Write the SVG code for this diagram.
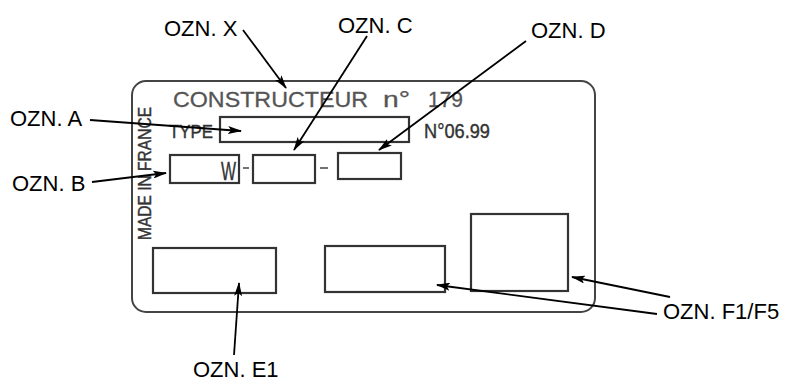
<svg xmlns="http://www.w3.org/2000/svg" width="787" height="383" viewBox="0 0 787 383">
<style>
.lbl{font-family:"Liberation Sans",Arial,sans-serif;font-size:22px;fill:#000}
.plate{fill:none;stroke:#444;stroke-width:2}
.box{fill:none;stroke:#333;stroke-width:2.2}
.pt{font-family:"Liberation Sans",Arial,sans-serif;fill:#555;stroke:#555;stroke-width:0.3}
.nt{font-family:"Liberation Sans",Arial,sans-serif;fill:#333;stroke:#333;stroke-width:0.4}
.con{stroke:#000;stroke-width:1.8;fill:none;marker-end:url(#ah)}
</style>
<defs>
<marker id="ah" viewBox="0 0 14 8" refX="13" refY="4" markerWidth="14" markerHeight="8" markerUnits="userSpaceOnUse" orient="auto">
<path d="M0,0 L14,4 L0,8 L3,4 Z" fill="#000"/>
</marker>
</defs>
<rect x="0" y="0" width="787" height="383" fill="#fff"/>
<g id="plate">
<rect class="plate" x="132" y="81" width="463" height="231" rx="14"/>
<text class="pt" x="173" y="107" font-size="22" textLength="195" lengthAdjust="spacingAndGlyphs">CONSTRUCTEUR</text>
<text class="pt" x="383" y="107" font-size="22" textLength="27" lengthAdjust="spacingAndGlyphs">n°</text>
<text class="pt" x="428" y="107" font-size="22" textLength="35" lengthAdjust="spacingAndGlyphs">179</text>
<text class="nt" x="169" y="138" font-size="19" textLength="44" lengthAdjust="spacingAndGlyphs">TYPE</text>
<text class="nt" x="424" y="138" font-size="20" textLength="66" lengthAdjust="spacingAndGlyphs">N°06.99</text>
<text class="nt" transform="translate(151,240) rotate(-90)" font-size="18" textLength="133" lengthAdjust="spacingAndGlyphs">MADE IN FRANCE</text>
</g>
<g id="type-box"><rect class="box" x="220" y="117" width="189" height="25"/></g>
<g id="box-b"><rect class="box" x="170" y="155" width="69" height="28"/>
<text class="nt" x="221" y="180" font-size="25" textLength="15" lengthAdjust="spacingAndGlyphs">W</text></g>
<g id="dash1"><line x1="243" y1="168" x2="249" y2="168" stroke="#444" stroke-width="1.5"/></g>
<g id="box-c"><rect class="box" x="253" y="155" width="62" height="28"/></g>
<g id="dash2"><line x1="320" y1="168" x2="328" y2="168" stroke="#444" stroke-width="1.5"/></g>
<g id="box-d"><rect class="box" x="338" y="153" width="63" height="26"/></g>
<g id="box-e1"><rect class="box" x="153" y="248" width="123" height="45"/></g>
<g id="box-e2"><rect class="box" x="325" y="246" width="120" height="46"/></g>
<g id="box-f"><rect class="box" x="471" y="214" width="97" height="77"/></g>
<g id="labels">
<text class="lbl" x="164" y="36">OZN. X</text>
<text class="lbl" x="338" y="33">OZN. C</text>
<text class="lbl" x="531" y="38">OZN. D</text>
<text class="lbl" x="10" y="126">OZN. A</text>
<text class="lbl" x="12" y="191">OZN. B</text>
<text class="lbl" x="193" y="377">OZN. E1</text>
<text class="lbl" x="663" y="319">OZN. F1/F5</text>
</g>
<g id="connectors">
<path class="con" d="M243,30 L286,88"/>
<path class="con" d="M367,36 L294,150"/>
<path class="con" d="M526,41 L379,150"/>
<path class="con" d="M90,120 L241,131"/>
<path class="con" d="M92,182 L166,173"/>
<path class="con" d="M234,355 L239,283"/>
<path class="con" d="M657,314 L437,285"/>
<path class="con" d="M670,297 L572,277"/>
</g>
</svg>
